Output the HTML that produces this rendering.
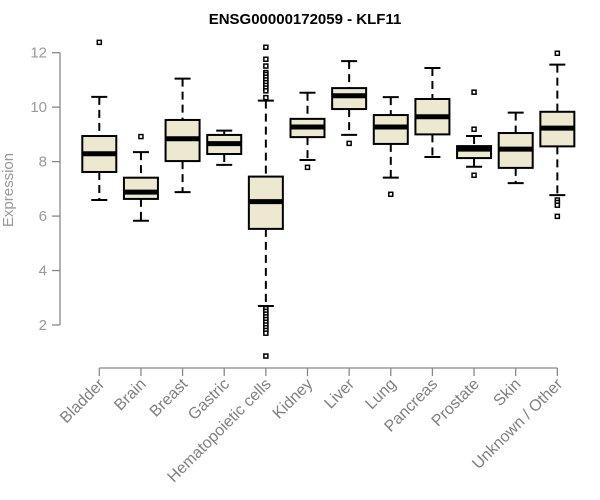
<!DOCTYPE html>
<html><head><meta charset="utf-8"><style>
html,body{margin:0;padding:0;background:#fff;width:600px;height:500px;overflow:hidden}
svg text{font-family:"Liberation Sans",Arial,sans-serif}
</style></head><body>
<svg id="chart" width="600" height="500" xmlns="http://www.w3.org/2000/svg">
<text x="305" y="24" text-anchor="middle" font-weight="bold" font-size="15" fill="#000">ENSG00000172059 - KLF11</text>
<text transform="translate(13,190) rotate(-90)" text-anchor="middle" font-size="15" fill="#999">Expression</text>
<g id="yaxis"></g>
<g id="xaxis"></g>
<g id="plot"></g>
</svg>
<script>
const categories=["Bladder","Brain","Breast","Gastric","Hematopoietic cells","Kidney","Liver","Lung","Pancreas","Prostate","Skin","Unknown / Other"];
const whiskerLow=[6.59,5.83,6.88,7.88,2.70,8.06,8.98,7.41,8.17,7.81,7.21,6.77];
const q1=[7.62,6.63,8.02,8.28,5.53,8.90,9.93,8.65,9.00,8.13,7.77,8.56];
const median=[8.29,6.88,8.84,8.66,6.53,9.27,10.42,9.27,9.65,8.46,8.46,9.23];
const q3=[8.94,7.41,9.53,8.98,7.45,9.57,10.70,9.71,10.30,8.57,9.05,9.83];
const whiskerHigh=[10.38,8.35,11.05,9.14,10.24,10.53,11.69,10.37,11.44,8.94,9.80,11.56];
const outliers=[[12.38],[8.92],[],[],[12.2,11.76,11.51,11.27,11.2,11.1,11.0,10.9,10.8,10.7,10.6,10.35,2.6,2.5,2.4,2.3,2.2,2.1,2.0,1.9,1.8,1.7,0.86],[7.79],[8.67],[6.8],[],[10.55,9.19,7.5],[],[11.98,6.59,6.5,6.4,5.99]];
const yTicks=[2,4,6,8,10,12];

const NS="http://www.w3.org/2000/svg";
const y=v=>325-(v-2)*27.23;
const x=i=>99.3+i*41.64;
function mk(tag,attrs,parent){const e=document.createElementNS(NS,tag);for(const k in attrs)e.setAttribute(k,attrs[k]);parent.appendChild(e);return e;}
const ya=document.getElementById('yaxis'),xa=document.getElementById('xaxis'),plot=document.getElementById('plot');
mk('line',{x1:60,x2:60,y1:y(2),y2:y(12),stroke:'#888','stroke-width':1.3},ya);
yTicks.forEach(t=>{
  const l=mk('line',{x1:52,x2:60,y1:y(t),y2:y(t),stroke:'#888','stroke-width':1.3},ya);
  
  
  const tx=mk('text',{x:47,y:y(t)+5,'text-anchor':'end','font-size':15,fill:'#999'},ya);
  tx.textContent=t;
  
  
});
mk('line',{x1:x(0),x2:x(categories.length-1),y1:368,y2:368,stroke:'#888','stroke-width':1.3},xa);
categories.forEach((c,i)=>{
  const cx=x(i);
  const tk=mk('line',{x1:cx,x2:cx,y1:368,y2:376,stroke:'#888','stroke-width':1.3},xa);
  
  
  const tx=mk('text',{transform:`translate(${cx+6},${385}) rotate(-45)`,'text-anchor':'end','font-size':16,fill:'#808080'},xa);
  tx.textContent=c;
  
  
  const g=mk('g',{},plot);
  
  
  const w=17;
  mk('line',{x1:cx,x2:cx,y1:y(whiskerHigh[i]),y2:y(q3[i]),stroke:'#000','stroke-width':2,'stroke-dasharray':'8,5'},g);
  mk('line',{x1:cx,x2:cx,y1:y(q1[i]),y2:y(whiskerLow[i]),stroke:'#000','stroke-width':2,'stroke-dasharray':'8,5'},g);
  mk('line',{x1:cx-8,x2:cx+8,y1:y(whiskerHigh[i]),y2:y(whiskerHigh[i]),stroke:'#000','stroke-width':2},g);
  mk('line',{x1:cx-8,x2:cx+8,y1:y(whiskerLow[i]),y2:y(whiskerLow[i]),stroke:'#000','stroke-width':2},g);
  mk('rect',{x:cx-w,y:y(q3[i]),width:2*w,height:y(q1[i])-y(q3[i]),fill:'#ede8d0',stroke:'#000','stroke-width':2},g);
  mk('line',{x1:cx-w,x2:cx+w,y1:y(median[i]),y2:y(median[i]),stroke:'#000','stroke-width':5},g);
  outliers[i].forEach(v=>{
    const o=mk('rect',{x:cx-2,y:y(v)-2,width:4,height:4,fill:'#fff',stroke:'#000','stroke-width':1.5},g);
    
    
  });
});
</script>
</body></html>
